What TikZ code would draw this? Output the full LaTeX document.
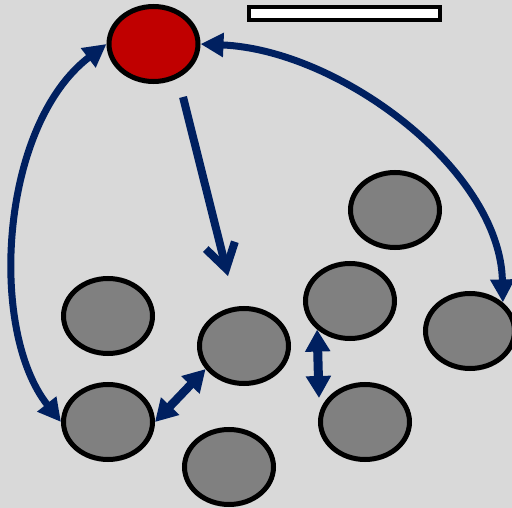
\documentclass[tikz,border=0pt]{standalone}
\usetikzlibrary{shapes.geometric,arrows.meta}
\definecolor{bg}{HTML}{D9D9D9}
\definecolor{navy}{HTML}{002060}
\definecolor{hub}{HTML}{C00000}
\definecolor{cell}{HTML}{808080}
\begin{document}
\begin{tikzpicture}[x=1pt,y=-1pt,
  blob/.style={ellipse,draw=black,line width=5pt,fill=cell,
    minimum width=89pt,minimum height=75pt,inner sep=0pt},
  link/.style={draw=navy,line width=7pt},
  tri/.tip={Triangle[length=23pt,width=23pt]},
  fat/.tip={Triangle[length=22pt,width=24pt]}]
% canvas
\fill[bg] (0,0) rectangle (512,508);
\useasboundingbox (0,0) rectangle (512,508);
% bar in the top row
\node (bar) [rectangle,draw=black,fill=white,line width=4.5pt,
  minimum width=191pt,minimum height=13pt,inner sep=0pt] at (344.5,13.5) {};
% hub and cells
\node (hub) [blob,fill=hub] at (153.5,44) {};
\node (a) [blob] at (108,316) {};
\node (b) [blob] at (108,422) {};
\node (c) [blob] at (244,346) {};
\node (d) [blob] at (229,467) {};
\node (e) [blob] at (350,301) {};
\node (f) [blob] at (365,422) {};
\node (g) [blob] at (470,331) {};
\node (h) [blob] at (395,210) {};
% free ends
\coordinate (dropA) at (183,97);
\coordinate (dropB) at (228,276);
\coordinate (efEnd) at (319,398);
% long curved links
\draw[link,tri-tri] (hub.west) .. controls (0,125) and (-12,330) .. (b.west);
\draw[link,tri-tri] (hub.east) .. controls (340,50) and (500,170) .. (g.41);
% straight links
\draw[link,line width=8pt,-{Straight Barb[length=24pt,width=30pt]}] (dropA) -- (dropB);
\draw[link,line width=8.5pt,fat-fat] (b.east) -- (c.211);
\draw[link,line width=9pt,fat-fat] (e.221) -- (efEnd);
\end{tikzpicture}
\end{document}
